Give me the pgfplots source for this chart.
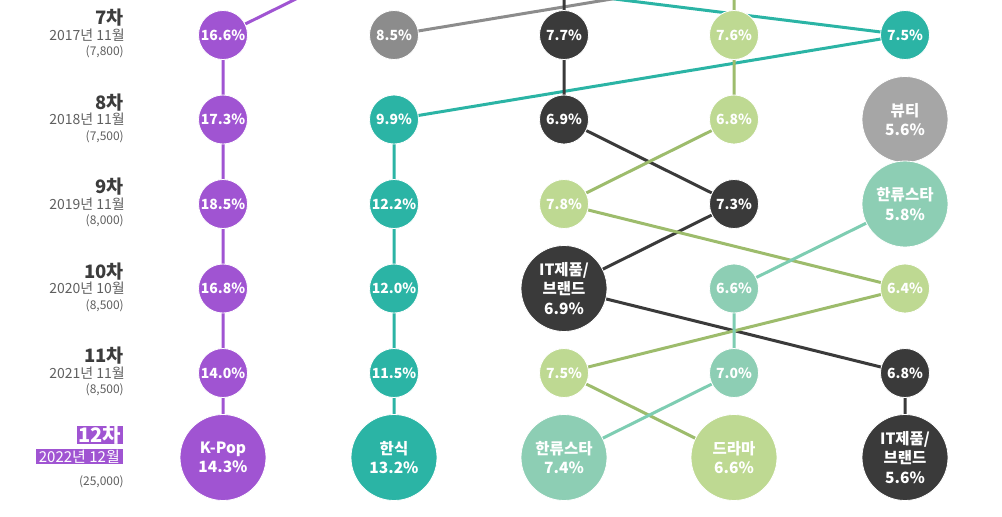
\documentclass[border=0pt]{standalone}
\usepackage{fontspec}
\setmainfont{Noto Sans CJK KR}
\usepackage{pgfplots}
\pgfplotsset{compat=1.18}
\definecolor{kpop}{RGB}{160,84,210}
\definecolor{hansik}{RGB}{43,180,165}
\definecolor{itc}{RGB}{58,58,58}
\definecolor{drama}{RGB}{190,217,146}
\definecolor{dramaline}{RGB}{157,188,108}
\definecolor{star}{RGB}{141,206,180}
\definecolor{starline}{RGB}{126,205,178}
\definecolor{grayc}{RGB}{140,140,140}
\definecolor{beauty}{RGB}{166,166,166}
\definecolor{lbl}{RGB}{60,60,60}
\definecolor{lbl2}{RGB}{95,95,95}
\newcommand\rowlabel[4]{%
  \node[anchor=east, text=lbl, font=\fontsize{18.5}{20}\selectfont\bfseries, inner sep=0pt] at (axis cs:124,#1-17) {#2};
  \node[anchor=east, text=lbl2, font=\fontsize{14}{15}\selectfont, inner sep=0pt] at (axis cs:125,#1) {#3};
  \node[anchor=east, text=lbl2, font=\fontsize{12}{13}\selectfont, inner sep=0pt] at (axis cs:124,#1+17) {#4};
}
\begin{document}
\begin{tikzpicture}
\begin{axis}[
  x=1pt, y=1pt, xmin=0, xmax=1002, ymin=0, ymax=517, y dir=reverse,
  hide axis, clip=true, scale only axis,
  linep/.style={line width=3pt, no markers},
  small/.style={only marks, mark=*, mark size=24.5pt, mark options={draw=white, line width=0.8pt},
    nodes near coords, point meta=explicit symbolic, nodes near coords align=center,
    every node near coord/.append style={anchor=center, text=white, align=center,
      font=\fontsize{14}{17}\selectfont\bfseries}},
  big/.style={small, mark size=43pt,
    every node near coord/.append style={font=\fontsize{15.5}{19.5}\selectfont\bfseries}},
]
\path (axis cs:0,0) rectangle (axis cs:1002,517);
% ---- connecting lines (row 6 lies above the visible area) ----
% K-Pop
\addplot[linep, kpop] coordinates {(394,-49.5) (223,35) (223,119.5) (223,204) (223,288.5) (223,373) (223,457.5)};
% 한식
\addplot[linep, hansik] coordinates {(223,-49.5) (905,35) (394,119.5) (394,204) (394,288.5) (394,373) (394,457.5)};
% gray category (2017)
\addplot[linep, grayc] coordinates {(905,-49.5) (394,35)};
% IT제품/브랜드
\addplot[linep, itc] coordinates {(564,-49.5) (564,35) (564,119.5) (734,204) (564,288.5) (905,373) (905,457.5)};
% 드라마
\addplot[linep, dramaline] coordinates {(734,-49.5) (734,35) (734,119.5) (564,204) (905,288.5) (564,373) (734,457.5)};
% 한류스타
\addplot[linep, starline] coordinates {(905,204) (734,288.5) (734,373) (564,457.5)};
% ---- circles ----
\addplot[small, color=kpop] coordinates {(223,35) [16.6\%] (223,119.5) [17.3\%] (223,204) [18.5\%] (223,288.5) [16.8\%] (223,373) [14.0\%]};
\addplot[big, color=kpop] coordinates {(223,457.5) [K-Pop\\14.3\%]};
\addplot[small, color=hansik] coordinates {(905,35) [7.5\%] (394,119.5) [9.9\%] (394,204) [12.2\%] (394,288.5) [12.0\%] (394,373) [11.5\%]};
\addplot[big, color=hansik] coordinates {(394,457.5) [한식\\13.2\%]};
\addplot[small, color=grayc] coordinates {(394,35) [8.5\%]};
\addplot[big, color=beauty] coordinates {(905,119.5) [뷰티\\5.6\%]};
\addplot[small, color=itc] coordinates {(564,35) [7.7\%] (564,119.5) [6.9\%] (734,204) [7.3\%] (905,373) [6.8\%]};
\addplot[big, color=itc] coordinates {(564,288.5) [IT제품/\\브랜드\\6.9\%] (905,457.5) [IT제품/\\브랜드\\5.6\%]};
\addplot[small, color=drama] coordinates {(734,35) [7.6\%] (734,119.5) [6.8\%] (564,204) [7.8\%] (905,288.5) [6.4\%] (564,373) [7.5\%]};
\addplot[big, color=drama] coordinates {(734,457.5) [드라마\\6.6\%]};
\addplot[small, color=star] coordinates {(734,288.5) [6.6\%] (734,373) [7.0\%]};
\addplot[big, color=star] coordinates {(905,204) [한류스타\\5.8\%] (564,457.5) [한류스타\\7.4\%]};
% ---- row labels ----
\rowlabel{35}{7차}{2017년 11월}{(7,800)}
\rowlabel{119.5}{8차}{2018년 11월}{(7,500)}
\rowlabel{204}{9차}{2019년 11월}{(8,000)}
\rowlabel{288.5}{10차}{2020년 10월}{(8,500)}
\rowlabel{373}{11차}{2021년 11월}{(8,500)}
\node[anchor=east, fill=kpop, text=white, font=\fontsize{20}{21}\selectfont\bfseries, inner xsep=1.5pt, inner ysep=0pt] at (axis cs:123,435) {12차};
\node[anchor=east, fill=kpop, text=white, font=\fontsize{15}{16}\selectfont, inner xsep=3pt, inner ysep=1pt] at (axis cs:123,456.5) {2022년 12월};
\node[anchor=east, text=lbl2, font=\fontsize{12}{13}\selectfont, inner sep=0pt] at (axis cs:124,482) {(25,000)};
\end{axis}
\end{tikzpicture}
\end{document}
